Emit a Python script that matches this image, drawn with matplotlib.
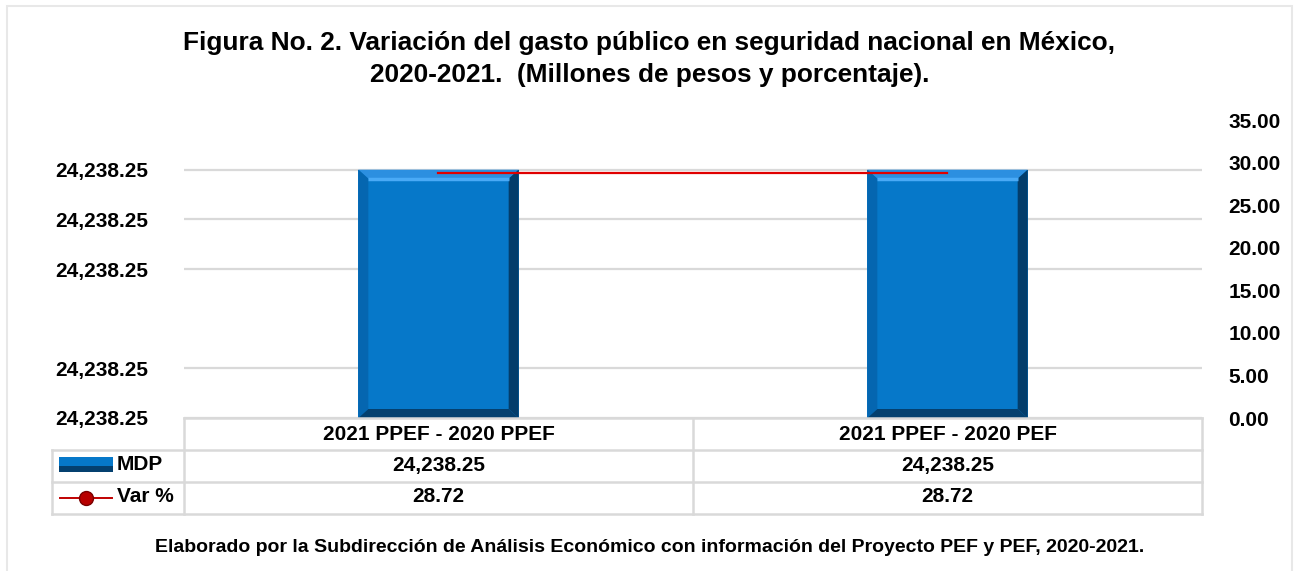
import matplotlib
matplotlib.use("Agg")
import matplotlib.pyplot as plt
from matplotlib.patches import Polygon, Rectangle
from matplotlib.lines import Line2D
import numpy as np

# ---- data ----
categories = ['2021 PPEF - 2020 PPEF', '2021 PPEF - 2020 PEF']
mdp = [24238.25, 24238.25]
var_pct = [28.72, 28.72]
right_ticks = [0, 5, 10, 15, 20, 25, 30, 35]
series_names = ['MDP', 'Var %']
title = ('Figura No. 2. Variación del gasto público en seguridad nacional en México,\n'
         '2020-2021.  (Millones de pesos y porcentaje).')
footer = ('Elaborado por la Subdirección de Análisis Económico con información '
          'del Proyecto PEF y PEF, 2020-2021.')

plt.rcParams['font.family'] = ['Liberation Sans', 'DejaVu Sans']
plt.rcParams['font.weight'] = 'bold'

W, H = 1296, 571
fig = plt.figure(figsize=(W / 100, H / 100), dpi=100)
fig.patch.set_facecolor('white')

def fx(px):
    return px / W

def fy(py):
    return 1 - py / H

# chart border
fig.add_artist(Rectangle((fx(7), fy(580)), fx(1292) - fx(7), (580 - 6) / H,
                         fill=False, edgecolor='#e8e8e8', lw=1.5,
                         transform=fig.transFigure))

L, R, T, B = 184, 1202, 120, 418
ax = fig.add_axes([fx(L), fy(B), fx(R) - fx(L), (B - T) / H])
ax2 = ax.twinx()

# left axis scale (values all display as 24,238.25)
v = mdp[0]
d = 0.0005
lo, hi = v - 5 * d, v + d
ax.set_ylim(lo, hi)
ax.set_xlim(-0.5, len(categories) - 0.5)
xs = np.arange(len(categories))

ax.set_yticks([v - k * d for k in (5, 4, 2, 1, 0)])
ax.yaxis.set_major_formatter(matplotlib.ticker.FuncFormatter(lambda y, p: f'{y:,.2f}'))
ax.tick_params(axis='y', length=0, pad=26, labelsize=15)
ax.set_xticks([])
ax.grid(axis='y', color='#d9d9d9', lw=1.6)
ax.set_axisbelow(True)
for s in ax.spines.values():
    s.set_visible(False)
for s in ax2.spines.values():
    s.set_visible(False)

bars = ax.bar(xs, mdp, width=0.315, color='#0678c9', zorder=2)

# bevel effect
ux = (len(categories)) / (R - L)
uy = (hi - lo) / (B - T)
bx, byt, byb = 10 * ux, 9 * uy, 9 * uy
for p in bars:
    x0, w = p.get_x(), p.get_width()
    top, bot = p.get_height(), lo
    polys = [
        ([(x0, top), (x0 + w, top), (x0 + w - bx, top - byt), (x0 + bx, top - byt)], '#2c8fe0'),
        ([(x0, top), (x0 + bx, top - byt), (x0 + bx, bot + byb), (x0, bot)], '#0566b0'),
        ([(x0 + w, top), (x0 + w, bot), (x0 + w - bx, bot + byb), (x0 + w - bx, top - byt)], '#033d6b'),
        ([(x0, bot), (x0 + w, bot), (x0 + w - bx, bot + byb), (x0 + bx, bot + byb)], '#04406f'),
    ]
    for pts, c in polys:
        ax.add_patch(Polygon(pts, closed=True, facecolor=c, edgecolor='none', zorder=3))
    ax.plot([x0 + bx, x0 + w - bx], [top - byt, top - byt], color='#4aaaf6', lw=2.5,
            zorder=3.5, solid_capstyle='butt')

# line on secondary axis
ax2.set_ylim(0, 35)
ax2.set_yticks(right_ticks)
ax2.yaxis.set_major_formatter(matplotlib.ticker.FuncFormatter(lambda y, p: f'{y:.2f}'))
ax2.tick_params(axis='y', length=0, pad=19, labelsize=15)
ax2.plot(xs, var_pct, color='#e00000', lw=1.6, zorder=5)

for lab in ax.get_yticklabels() + ax2.get_yticklabels():
    lab.set_fontweight('bold')

# title and footer
fig.text(fx(649), fy(43), title.split('\n')[0], ha='center', va='center',
         fontsize=18.9, fontweight='bold')
fig.text(fx(650), fy(75), title.split('\n')[1], ha='center', va='center',
         fontsize=18.9, fontweight='bold')
fig.text(fx(650), fy(547), footer, ha='center', va='center', fontsize=14.0, fontweight='bold')

# data table
gc = '#d9d9d9'
glw = 1.8
col_edges = [L, (L + R) / 2, R]
row_edges = [B, 450, 482, 514]
leg_left = 52

def hline(x0, x1, y):
    fig.add_artist(Line2D([fx(x0), fx(x1)], [fy(y), fy(y)], color=gc, lw=glw,
                          transform=fig.transFigure))

def vline(x, y0, y1):
    fig.add_artist(Line2D([fx(x), fx(x)], [fy(y0), fy(y1)], color=gc, lw=glw,
                          transform=fig.transFigure))

hline(L, R, row_edges[0])
for y in row_edges[1:]:
    hline(leg_left, R, y)
for x in col_edges:
    vline(x, row_edges[0], row_edges[3])
vline(leg_left, row_edges[1], row_edges[3])

for i, c in enumerate(categories):
    cx = (col_edges[i] + col_edges[i + 1]) / 2
    fig.text(fx(cx), fy(435), c, ha='center', va='center', fontsize=15, fontweight='bold')
    fig.text(fx(cx), fy(466), f'{mdp[i]:,.2f}', ha='center', va='center',
             fontsize=15, fontweight='bold')
    fig.text(fx(cx), fy(497), f'{var_pct[i]:.2f}', ha='center', va='center',
             fontsize=15, fontweight='bold')

# legend keys in table
fig.add_artist(Rectangle((fx(59), fy(472)), fx(113) - fx(59), 15 / H,
                         facecolor='#0678c9', edgecolor='none', transform=fig.transFigure))
fig.add_artist(Rectangle((fx(59), fy(472)), fx(113) - fx(59), 6 / H,
                         facecolor='#04406f', edgecolor='none', transform=fig.transFigure))
fig.text(fx(117), fy(465), series_names[0], ha='left', va='center', fontsize=15, fontweight='bold')
fig.add_artist(Line2D([fx(60), fx(112)], [fy(498), fy(498)], color='#c00000', lw=1.4,
                      transform=fig.transFigure))
fig.add_artist(Line2D([fx(86)], [fy(498)], marker='o', markersize=10,
                      markerfacecolor='#b80000', markeredgecolor='#7a0000',
                      transform=fig.transFigure))
fig.text(fx(117), fy(497), series_names[1], ha='left', va='center', fontsize=15, fontweight='bold')

fig.savefig('out.png', dpi=100)
